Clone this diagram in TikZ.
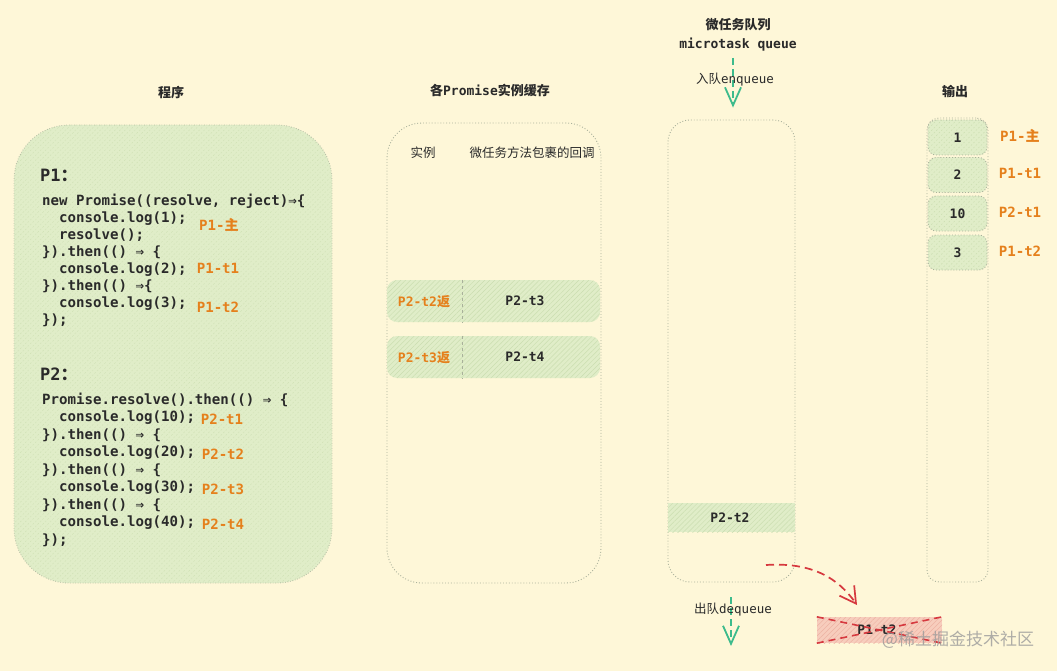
\documentclass[tikz,border=0pt]{standalone}
\usepackage{fontspec}
\setmonofont{DejaVu Sans Mono}
\newfontfamily\cjk{Noto Sans CJK SC}
\usetikzlibrary{arrows.meta,patterns.meta}
\definecolor{bgc}{HTML}{FEF7D8}
\definecolor{greenfill}{HTML}{E0EDC8}
\definecolor{hatchc}{HTML}{CBDEB0}
\definecolor{bordc}{HTML}{A9B19B}
\definecolor{ink}{HTML}{2A2A2A}
\definecolor{orangec}{HTML}{E5801C}
\definecolor{tealc}{HTML}{3DBB8C}
\definecolor{redc}{HTML}{D6393F}
\definecolor{pinkfill}{HTML}{F7CDBD}
\definecolor{pinkhatch}{HTML}{EDB3A3}
\definecolor{wmark}{HTML}{9A9A9A}
\newcommand\codefont{\ttfamily\bfseries\fontsize{14.1}{17}\selectfont}
\newcommand\smallfont{\ttfamily\bfseries\fontsize{13}{15}\selectfont}
\newcommand\bigfont{\ttfamily\bfseries\fontsize{17}{19}\selectfont}
\newcommand\hdrfont{\ttfamily\fontsize{12.5}{14}\selectfont}
\tikzset{
  codeline/.style={font=\codefont, text=ink, anchor=base west, inner sep=0pt},
  lbl/.style={font=\codefont, text=orangec, inner sep=0pt},
  ttl/.style={font=\smallfont, text=ink, inner sep=0pt},
  panel/.style={draw=bordc, dotted, line width=0.9pt, rounded corners=#1, inner sep=0pt},
  hatchfill/.style={preaction={fill=greenfill}, pattern={Lines[angle=45,distance=3.5pt,line width=0.5pt]}, pattern color=hatchc},
  pinkhatchfill/.style={preaction={fill=pinkfill}, pattern={Lines[angle=45,distance=3.5pt,line width=0.5pt]}, pattern color=pinkhatch},
  greenarrow/.style={draw=tealc, line width=1.8pt, dash pattern=on 7pt off 4pt, -{Straight Barb[length=18pt,width=16pt,line width=1.8pt]}},
  redarrow/.style={draw=redc, line width=1.7pt, dash pattern=on 8pt off 5pt, -{Straight Barb[length=16pt,width=18pt,line width=1.7pt]}},
}
\begin{document}
\begin{tikzpicture}[x=1pt,y=-1pt]
\fill[bgc] (0,0) rectangle (1057,671);
\useasboundingbox (0,0) rectangle (1057,671);

% ---------- panels ----------
\node[panel=55, hatchfill, minimum width=318, minimum height=458] (prog) at (173,354) {};
\node[panel=35, minimum width=214, minimum height=460] (cache) at (494,353) {};
\node[panel=22, minimum width=127, minimum height=462] (queue) at (731.5,351) {};
\node[panel=12, minimum width=61, minimum height=464] (outp) at (957.5,350) {};

% ---------- titles ----------
\node[ttl] (tprog) at (171,93) {{\cjk 程序}};
\node[ttl] (tcache) at (490,90) {{\cjk 各}Promise{\cjk 实例缓存}};
\node[ttl] (tqueue1) at (738,25) {{\cjk 微任务队列}};
\node[ttl] (tqueue2) at (738,45) {microtask queue};
\node[ttl] (toutp) at (955,92) {{\cjk 输出}};

% ---------- program code ----------
\node[font=\bigfont, text=ink, anchor=base west, inner sep=0pt] (p1h) at (40,182) {P1{\cjk ：}};
\foreach \t [count=\i] in {
  {new Promise((resolve, reject)⇒\{},
  {~~console.log(1);},
  {~~resolve();},
  {\}).then(() ⇒ \{},
  {~~console.log(2);},
  {\}).then(() ⇒\{},
  {~~console.log(3);},
  {\});}}
  \node[codeline] (p1l\i) at (42,{205+17.1*(\i-1)}) {\t};

\node[font=\bigfont, text=ink, anchor=base west, inner sep=0pt] (p2h) at (40,380) {P2{\cjk ：}};
\foreach \t [count=\i] in {
  {Promise.resolve().then(() ⇒ \{},
  {~~console.log(10);},
  {\}).then(() ⇒ \{},
  {~~console.log(20);},
  {\}).then(() ⇒ \{},
  {~~console.log(30);},
  {\}).then(() ⇒ \{},
  {~~console.log(40);},
  {\});}}
  \node[codeline] (p2l\i) at (42,{404+17.5*(\i-1)}) {\t};

\node[lbl] (lp1m) at (219,225) {P1-{\cjk 主}};
\node[lbl] (lp1t1) at (218,268) {P1-t1};
\node[lbl] (lp1t2) at (218,307) {P1-t2};
\node[lbl] (lp2t1) at (222,419) {P2-t1};
\node[lbl] (lp2t2) at (223,454) {P2-t2};
\node[lbl] (lp2t3) at (223,489) {P2-t3};
\node[lbl] (lp2t4) at (223,524) {P2-t4};

% ---------- cache panel ----------
\node[ttl, font=\hdrfont] (hinst) at (423,153) {{\cjk 实例}};
\node[ttl, font=\hdrfont] (hcb) at (532,153) {{\cjk 微任务方法包裹的回调}};

\node[hatchfill, rounded corners=10, minimum width=213, minimum height=42, inner sep=0pt] (row1) at (493.5,301) {};
\node[hatchfill, rounded corners=10, minimum width=213, minimum height=42, inner sep=0pt] (row2) at (493.5,357) {};
\draw[bordc, dashed, line width=0.8pt] (462,0 |- row1.north) -- (462,0 |- row1.south);
\draw[bordc, dashed, line width=0.8pt] (462,0 |- row2.north) -- (462,0 |- row2.south);
\node[lbl, font=\smallfont] (r1a) at (424,302) {P2-t2{\cjk 返}};
\node[ttl] (r1b) at (525,301) {P2-t3};
\node[lbl, font=\smallfont] (r2a) at (424,358) {P2-t3{\cjk 返}};
\node[ttl] (r2b) at (525,357) {P2-t4};

% ---------- queue ----------
\node[hatchfill, minimum width=127, minimum height=29, inner sep=0pt] (qitem) at (731.5,517.5) {};
\node[ttl] (qitemt) at (730,518) {P2-t2};

\coordinate (enqS) at (733,58);
\draw[greenarrow, shorten >=12pt] (enqS) -- (enqS |- queue.north);
\node[ttl, font=\hdrfont] (enq) at (735,80) {{\cjk 入队}enqueue};

\coordinate (deqE) at (731,646);
\draw[greenarrow, shorten <=15pt] (deqE |- queue.south) -- (deqE);
\node[ttl, font=\hdrfont] (deq) at (733,610) {{\cjk 出队}dequeue};

% ---------- removed item ----------
\node[pinkhatchfill, minimum width=125, minimum height=26, inner sep=0pt] (p1t2x) at (879.5,630) {};
\node[ttl] (p1t2xt) at (877,630) {P1-t2};
\draw[redc, line width=1.6pt, dash pattern=on 7pt off 5pt] (p1t2x.north west) -- (p1t2x.south east);
\draw[redc, line width=1.6pt, dash pattern=on 7pt off 5pt] (p1t2x.south west) -- (p1t2x.north east);
\coordinate (redS) at (766,565);
\coordinate (redE) at (857,605);
\draw[redarrow] (redS) .. controls (812,562) and (838,578) .. (redE);

% ---------- output ----------
\foreach \v/\yy/\lab [count=\i] in {1/137.5/{P1-{\cjk 主}}, 2/175/P1-t1, 10/213.5/P2-t1, 3/252.5/P1-t2}{
  \node[panel=8, hatchfill, minimum width=59, minimum height=35] (o\i) at (957.5,\yy) {};
  \node[ttl] (ov\i) at (957.5,\yy) {\v};
  \node[lbl] (ol\i) at (1020,\yy-1.5) {\lab};
}

% ---------- watermark ----------
\node[text=wmark, opacity=0.8, font=\cjk\fontsize{17}{19}\selectfont, inner sep=0pt] (wm) at (958,640) {@稀土掘金技术社区};
\end{tikzpicture}
\end{document}
